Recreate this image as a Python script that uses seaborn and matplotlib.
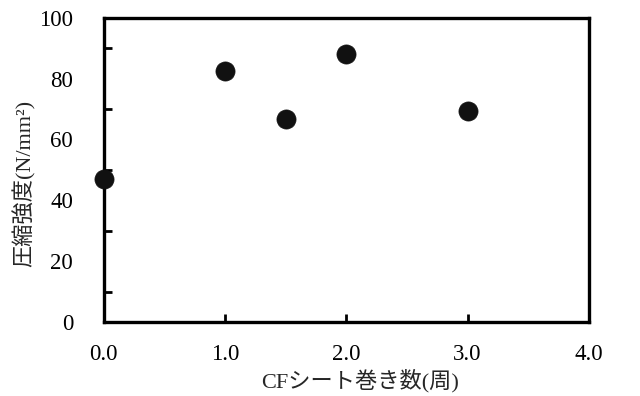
import matplotlib
matplotlib.use("Agg")
import matplotlib.pyplot as plt
from matplotlib.ticker import MultipleLocator
import seaborn as sns
import pandas as pd

# wrap count of CF sheet vs compressive strength
wraps = [0.0, 1.0, 1.5, 2.0, 3.0]
strength = [47.0, 82.5, 66.7, 88.0, 69.2]

x_ticks = [0.0, 1.0, 2.0, 3.0, 4.0]
x_labels = ["0.0", "1.0", "2.0", "3.0", "4.0"]
y_ticks = [0, 20, 40, 60, 80, 100]

x_label = "CFシート巻き数(周)"
y_label = "圧縮強度(N/mm²)"

sns.set_theme(style="white")
plt.rcParams["font.family"] = ["Liberation Serif", "Noto Sans CJK JP", "DejaVu Sans"]

df = pd.DataFrame({"wraps": wraps, "strength": strength})

fig = plt.figure(figsize=(6.4, 3.96), dpi=100)
ax = fig.add_axes([0.162, 0.187, 0.758, 0.768])

sns.scatterplot(data=df, x="wraps", y="strength", ax=ax, s=190,
                color="#111111", edgecolor="#111111", linewidth=0.5,
                zorder=5, clip_on=False, legend=False)

ax.set_xlim(0, 4)
ax.set_ylim(0, 100)
ax.set_xticks(x_ticks)
ax.set_xticklabels(x_labels)
ax.set_yticks(y_ticks)
ax.yaxis.set_minor_locator(MultipleLocator(10))

for sp in ax.spines.values():
    sp.set_visible(True)
    sp.set_color("black")
    sp.set_linewidth(2.4)

ax.tick_params(axis="both", which="major", direction="in", length=6, width=2,
               colors="black", labelsize=16.5)
ax.tick_params(axis="y", which="major", pad=22)
ax.tick_params(axis="x", which="major", pad=16)
ax.tick_params(axis="y", which="minor", direction="in", length=6, width=2,
               colors="black", left=True)
ax.tick_params(axis="x", which="major", top=False, bottom=True)
ax.tick_params(axis="y", which="both", right=False)

ax.set_xlabel(x_label, fontsize=16)
ax.set_ylabel(y_label, fontsize=16)
ax.xaxis.set_label_coords(0.528, -0.155)
ax.yaxis.set_label_coords(-0.14, 0.454)

fig.savefig("out.png", dpi=100)
